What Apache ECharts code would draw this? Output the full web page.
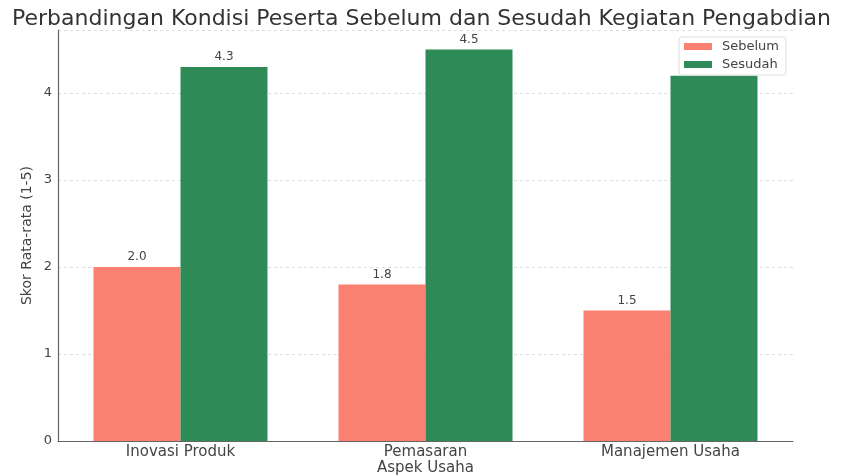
<!DOCTYPE html>
<html>
<head>
<meta charset="utf-8">
<script src="https://cdn.jsdelivr.net/npm/echarts@6/dist/echarts.min.js"></script>
<style>
  html, body { margin: 0; padding: 0; background: #fff; }
  #chart { width: 843px; height: 476px; }
</style>
</head>
<body>
<div id="chart"></div>
<script>
// data
const categories = ['Inovasi Produk', 'Pemasaran', 'Manajemen Usaha'];
const sebelum = [2.0, 1.8, 1.5];
const sesudah = [4.3, 4.5, 4.2];
const yTicks = [0, 1, 2, 3, 4];

const FONT = 'DejaVu Sans';
const chart = echarts.init(document.getElementById('chart'));

function barSeries(name, data, color) {
  return {
    name: name,
    type: 'bar',
    data: data,
    barWidth: 87,
    barGap: '0%',
    itemStyle: { color: color },
    label: {
      show: true,
      position: 'top',
      distance: 4,
      formatter: p => p.value.toFixed(1),
      color: '#444',
      fontFamily: FONT,
      fontSize: 12
    },
    z: 2
  };
}

chart.setOption({
  animation: false,
  textStyle: { fontFamily: FONT },
  title: {
    text: 'Perbandingan Kondisi Peserta Sebelum dan Sesudah Kegiatan Pengabdian',
    left: 'center',
    top: 3,
    textStyle: { fontFamily: FONT, fontSize: 22, fontWeight: 'normal', color: '#333' }
  },
  legend: {
    data: ['Sebelum', 'Sesudah'],
    orient: 'vertical',
    right: 57,
    top: 37,
    itemWidth: 28,
    itemHeight: 7,
    itemGap: 5,
    padding: [3, 7, 4, 5],
    backgroundColor: '#fff',
    borderColor: '#ddd',
    borderWidth: 1,
    borderRadius: 3,
    icon: 'rect',
    textStyle: { fontFamily: FONT, fontSize: 13, color: '#444', padding: [0, 0, 0, 5] },
    z: 10
  },
  grid: { left: 58, right: 50, top: 30, bottom: 35, outerBoundsMode: 'none' },
  xAxis: {
    type: 'category',
    data: categories,
    name: 'Aspek Usaha',
    nameLocation: 'middle',
    nameGap: 20,
    nameMoveOverlap: false,
    nameTextStyle: { fontFamily: FONT, fontSize: 15, color: '#444' },
    axisLine: { lineStyle: { color: '#666', width: 1.2 } },
    axisTick: { show: false },
    axisLabel: { fontFamily: FONT, fontSize: 15, color: '#444', margin: 4 }
  },
  yAxis: {
    type: 'value',
    min: 0,
    max: 4.725,
    interval: 1,
    name: 'Skor Rata-rata (1-5)',
    nameLocation: 'middle',
    nameGap: 24,
    nameMoveOverlap: false,
    nameTextStyle: { fontFamily: FONT, fontSize: 14, color: '#444' },
    axisLine: { show: true, lineStyle: { color: '#666', width: 1.2 } },
    axisTick: { show: false },
    axisLabel: {
      fontFamily: FONT, fontSize: 13, color: '#444', margin: 6,
      formatter: v => (yTicks.indexOf(v) >= 0 ? String(v) : '')
    },
    splitLine: { show: true, lineStyle: { color: '#ddd', type: [3, 3], width: 1 } }
  },
  series: [
    barSeries('Sebelum', sebelum, '#FA8072'),
    barSeries('Sesudah', sesudah, '#2E8B57')
  ]
});
</script>
</body>
</html>
